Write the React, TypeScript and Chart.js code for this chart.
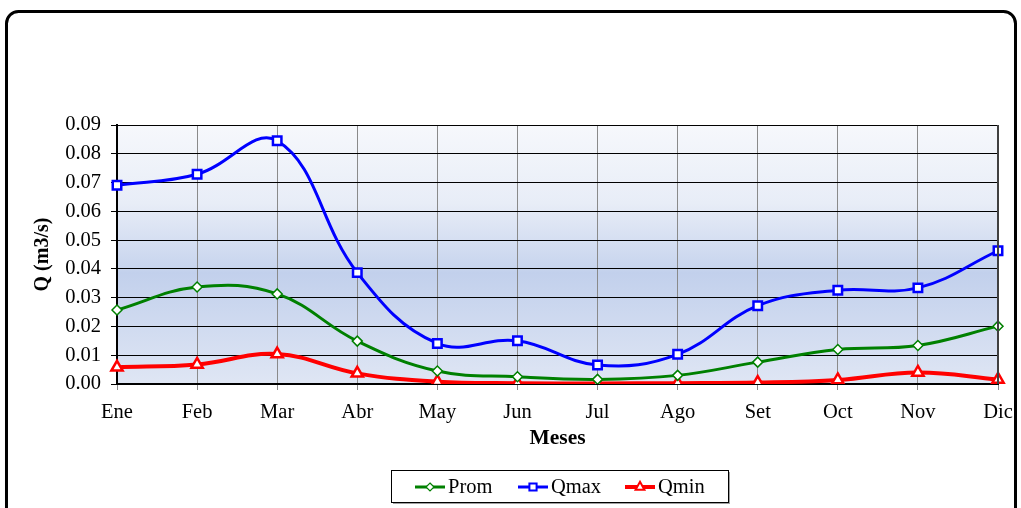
import { useEffect, useRef } from "react";
import { Chart, registerables } from "chart.js";

Chart.register(...registerables);

// Monthly discharge (m3/s)
const months = ["Ene", "Feb", "Mar", "Abr", "May", "Jun", "Jul", "Ago", "Set", "Oct", "Nov", "Dic"];
const prom = [0.0257, 0.0337, 0.0313, 0.0149, 0.0045, 0.0025, 0.0016, 0.003, 0.0076, 0.012, 0.0134, 0.0201];
const qmax = [0.0691, 0.0729, 0.0845, 0.0387, 0.0141, 0.015, 0.0066, 0.0103, 0.0272, 0.0326, 0.0334, 0.0463];
const qmin = [0.0058, 0.0068, 0.0104, 0.0037, 0.0008, 0.0003, 0.0002, 0.0003, 0.0005, 0.0014, 0.004, 0.0016];

const yMin = 0;
const yMax = 0.09;
const yStep = 0.01;

const SERIF = '"Liberation Serif", "Times New Roman", serif';

const W = 1021;
const H = 508;

function drawMarker(ctx: CanvasRenderingContext2D, style: string, x: number, y: number, r: number, color: string, lw: number) {
  ctx.save();
  ctx.fillStyle = "#ffffff";
  ctx.strokeStyle = color;
  ctx.lineWidth = lw;
  ctx.beginPath();
  if (style === "rectRot") {
    ctx.moveTo(x, y - r);
    ctx.lineTo(x + r, y);
    ctx.lineTo(x, y + r);
    ctx.lineTo(x - r, y);
    ctx.closePath();
  } else if (style === "rect") {
    ctx.rect(x - r * 0.75, y - r * 0.75, 1.5 * r, 1.5 * r);
  } else {
    ctx.moveTo(x, y - r);
    ctx.lineTo(x + r * 0.85, y + r * 0.55);
    ctx.lineTo(x - r * 0.85, y + r * 0.55);
    ctx.closePath();
  }
  ctx.fill();
  ctx.stroke();
  ctx.restore();
}

// Gradient plot background + rounded outer frame
const backdrop = {
  id: "backdrop",
  beforeDraw(chart: any) {
    const { ctx, chartArea: a } = chart;
    ctx.save();
    ctx.fillStyle = "#ffffff";
    ctx.fillRect(0, 0, chart.width, chart.height);
    const g = ctx.createLinearGradient(0, a.top, 0, a.bottom);
    g.addColorStop(0, "#f6f8fc");
    g.addColorStop(0.3, "#e8edf7");
    g.addColorStop(0.55, "#c8d5ee");
    g.addColorStop(0.57, "#c2d0ec");
    g.addColorStop(1, "#dfe6f4");
    ctx.fillStyle = g;
    ctx.fillRect(a.left, a.top, a.right - a.left, a.bottom - a.top);
    ctx.restore();
  },
  afterDraw(chart: any) {
    const { ctx, chartArea: a } = chart;
    ctx.save();
    // right border of plot
    ctx.strokeStyle = "#404040";
    ctx.lineWidth = 2;
    ctx.beginPath();
    ctx.moveTo(a.right, a.top);
    ctx.lineTo(a.right, a.bottom);
    ctx.stroke();

    // outer rounded frame
    ctx.strokeStyle = "#000000";
    ctx.lineWidth = 3;
    ctx.beginPath();
    ctx.roundRect(6.5, 11.5, 1009, 540, 12);
    ctx.stroke();
    ctx.restore();
  },
};

// Legend box with line + marker samples
const lineLegend = {
  id: "lineLegend",
  afterDraw(chart: any) {
    const { ctx } = chart;
    const box = { x: 391, y: 470, w: 337, h: 32 };
    ctx.save();
    ctx.fillStyle = "#a0a0a0";
    ctx.fillRect(box.x + 2, box.y + 2, box.w, box.h);
    ctx.fillStyle = "#ffffff";
    ctx.fillRect(box.x, box.y, box.w, box.h);
    ctx.strokeStyle = "#000000";
    ctx.lineWidth = 1;
    ctx.strokeRect(box.x + 0.5, box.y + 0.5, box.w, box.h);

    const cy = box.y + 17;
    const starts = [415, 518, 625];
    ctx.font = `20.5px ${SERIF}`;
    ctx.textBaseline = "middle";
    ctx.textAlign = "left";
    chart.data.datasets.forEach((ds: any, i: number) => {
      const x0 = starts[i];
      ctx.strokeStyle = ds.borderColor;
      ctx.lineWidth = ds.borderWidth;
      ctx.beginPath();
      ctx.moveTo(x0, cy);
      ctx.lineTo(x0 + 30, cy);
      ctx.stroke();
      drawMarker(ctx, ds.pointStyle, x0 + 15, cy, ds.pointRadius * 0.8, ds.borderColor, ds.pointBorderWidth * 0.8);
      ctx.fillStyle = "#000000";
      ctx.fillText(ds.label, x0 + 33, cy + 1);
    });
    ctx.restore();
  },
};

export default function App() {
  const ref = useRef<HTMLCanvasElement | null>(null);

  useEffect(() => {
    const canvas = ref.current;
    if (!canvas) return;
    const chart = new Chart(canvas, {
      type: "line",
      data: {
        labels: months,
        datasets: [
          {
            label: "Prom",
            data: prom,
            borderColor: "#008000",
            borderWidth: 3,
            pointStyle: "rectRot",
            pointRadius: 5,
            pointBorderWidth: 1.5,
            pointBackgroundColor: "#ffffff",
            pointBorderColor: "#008000",
            tension: 0.4,
          },
          {
            label: "Qmax",
            data: qmax,
            borderColor: "#0000ff",
            borderWidth: 3,
            pointStyle: "rect",
            pointRadius: 6,
            pointBorderWidth: 2.5,
            pointBackgroundColor: "#ffffff",
            pointBorderColor: "#0000ff",
            tension: 0.4,
          },
          {
            label: "Qmin",
            data: qmin,
            borderColor: "#ff0000",
            borderWidth: 4,
            pointStyle: "triangle",
            pointRadius: 6.5,
            pointBorderWidth: 2.5,
            pointBackgroundColor: "#ffffff",
            pointBorderColor: "#ff0000",
            tension: 0.4,
          },
        ],
      },
      options: {
        animation: false,
        responsive: false,
        layout: { padding: { left: 0, top: 125, right: 23, bottom: 54 } },
        plugins: {
          legend: { display: false },
          tooltip: { enabled: false },
        },
        scales: {
          x: {
            offset: false,
            grid: { color: "#8a8a8a", lineWidth: 1, tickLength: 6, drawTicks: true },
            border: { color: "#000000", width: 2 },
            ticks: { color: "#000000", font: { family: SERIF, size: 20.5 }, padding: 10, maxRotation: 0, autoSkip: false },
            title: {
              display: true,
              text: "Meses",
              color: "#000000",
              font: { family: SERIF, size: 21.5, weight: "bold" },
              padding: { top: 0, bottom: 3 },
            },
            afterFit(scale: any) {
              scale.height = 70;
              scale.paddingLeft = 0;
              scale.paddingRight = 0;
            },
          },
          y: {
            min: yMin,
            max: yMax,
            grid: { color: "#000000", lineWidth: 1, tickLength: 6 },
            border: { color: "#000000", width: 2 },
            ticks: {
              stepSize: yStep,
              color: "#000000",
              font: { family: SERIF, size: 20.5 },
              padding: 10,
              callback: (v: any) => Number(v).toFixed(2),
            },
            title: {
              display: true,
              text: "Q (m3/s)",
              color: "#000000",
              font: { family: SERIF, size: 20, weight: "bold" },
              padding: { top: 31, bottom: 0 },
            },
            afterFit(scale: any) {
              scale.width = 117;
              scale.paddingTop = 0;
              scale.paddingBottom = 0;
            },
          },
        },
      },
      plugins: [backdrop, lineLegend],
    });
    return () => chart.destroy();
  }, []);

  return (
    <div style={{ position: "absolute", left: 0, top: 0, width: W, height: H }}>
      <canvas ref={ref} width={W} height={H} style={{ width: W, height: H, display: "block" }} />
    </div>
  );
}
